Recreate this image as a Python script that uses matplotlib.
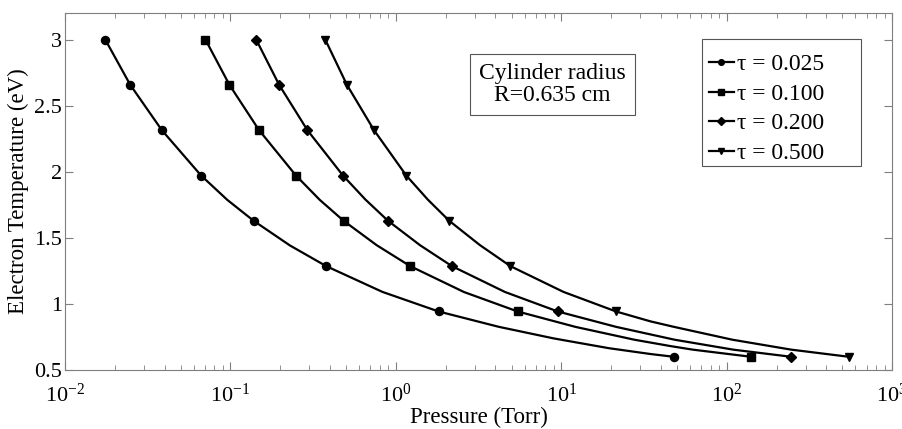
import numpy as np
import matplotlib
matplotlib.use('Agg')
import matplotlib.pyplot as plt
from matplotlib.patches import Rectangle
from matplotlib.ticker import LogLocator, NullFormatter

plt.rcParams.update({
    'font.family': 'Liberation Serif',
    'mathtext.fontset': 'custom',
    'mathtext.rm': 'Liberation Serif',
    'mathtext.it': 'Liberation Serif:italic',
    'axes.unicode_minus': False,
    'font.size': 16,
})

# electron temperature levels (eV) where markers sit, shared by all curves
te = [3.0, 2.657, 2.314, 1.971, 1.629, 1.286, 0.943, 0.6]

# pressure (Torr) of the markers
p_025 = [0.0175, 0.0248, 0.0385, 0.0665, 0.138, 0.379, 1.81, 47.9]
p_100 = [0.0706, 0.0986, 0.149, 0.249, 0.483, 1.22, 5.44, 140.6]
p_200 = [0.143, 0.197, 0.292, 0.479, 0.896, 2.18, 9.51, 245.5]
p_500 = [0.374, 0.506, 0.738, 1.156, 2.10, 4.92, 21.4, 548.0]

# extra points read along the drawn (smooth) curves between markers
curve_p_025 = [0.0957, 0.229, 0.829, 4.18, 9.0, 19.4, 34.6]
curve_t_025 = [1.787, 1.442, 1.091, 0.827, 0.739, 0.665, 0.621]
curve_p_100 = [0.346, 0.766, 2.58, 12.2, 27.7, 45.7, 62.4]
curve_t_100 = [1.788, 1.444, 1.090, 0.826, 0.729, 0.681, 0.654]
curve_p_200 = [0.655, 1.40, 4.57, 21.5, 48.5, 109.5]
curve_t_200 = [1.789, 1.444, 1.090, 0.826, 0.729, 0.654]
curve_p_500 = [1.56, 3.22, 10.3, 34.6, 48.1, 108.4, 245.6]
curve_t_500 = [1.789, 1.445, 1.091, 0.868, 0.826, 0.729, 0.654]

series = [(p_025, curve_p_025, curve_t_025),
          (p_100, curve_p_100, curve_t_100),
          (p_200, curve_p_200, curve_t_200),
          (p_500, curve_p_500, curve_t_500)]
labels = ['τ = 0.025', 'τ = 0.100', 'τ = 0.200', 'τ = 0.500']
markers = ['o', 's', 'D', 'v']
msizes = [5.8, 5.2, 5.2, 6.3]

fig = plt.figure(figsize=(9.03, 4.29), dpi=100)
ax = fig.add_axes([0.072, 0.1375, 0.916, 0.832])

for (p, cp, ct), lab, m, ms in zip(series, labels, markers, msizes):
    lp = np.array(list(p) + list(cp))
    lt = np.array(te + list(ct))
    order = np.argsort(lp)
    ax.plot(lp[order], lt[order], color='black', linewidth=1.6)
    ax.plot(p, te, linestyle='none', color='black', marker=m, markersize=ms)
    # legend proxy
    ax.plot([], [], color='black', linewidth=1.6, marker=m, markersize=ms,
            label=lab)

ax.set_xscale('log')
ax.set_xlim(1e-2, 1e3)
ax.set_ylim(0.5, 3.2)
ax.set_yticks([0.5, 1, 1.5, 2, 2.5, 3])
ax.set_yticklabels(['0.5', '1', '1.5', '2', '2.5', '3'])
ax.xaxis.set_major_locator(LogLocator(base=10, numticks=10))
ax.xaxis.set_minor_locator(LogLocator(base=10, subs=np.arange(2, 10), numticks=20))
ax.xaxis.set_minor_formatter(NullFormatter())

for s in ax.spines.values():
    s.set_color('#7f7f7f')
ax.tick_params(which='both', direction='in', top=True, right=True,
               colors='#7f7f7f', labelcolor='black', labelsize=16)
ax.tick_params(which='major', length=6)
ax.tick_params(which='minor', length=3.5)
ax.tick_params(axis='x', which='major', pad=10)
ax.tick_params(axis='y', which='major', pad=2)

ax.set_xlabel('Pressure (Torr)', fontsize=16.5, labelpad=0)
ax.set_ylabel('Electron Temperature (eV)', fontsize=16.5, labelpad=4)

ax.text(0.589, 0.80, 'Cylinder radius\nR=0.635 cm', transform=ax.transAxes,
        ha='center', va='center', fontsize=17, linespacing=1.1,
        bbox=dict(boxstyle='square,pad=0.38', fc='white', ec='#555555', lw=0.8))

# legend box (wider on the right, like the original)
ax.add_patch(Rectangle((0.770, 0.5714), 0.1925, 0.3558, transform=ax.transAxes,
                       fc='white', ec='#555555', lw=0.8, zorder=4))
leg = ax.legend(loc='upper left', bbox_to_anchor=(0.778, 0.886), fontsize=17,
                frameon=False, handlelength=1.06, handletextpad=0.15,
                labelspacing=0.34, borderpad=0, borderaxespad=0,
                markerscale=0.7)
leg.set_zorder(5)

fig.savefig('out.png', dpi=100)
